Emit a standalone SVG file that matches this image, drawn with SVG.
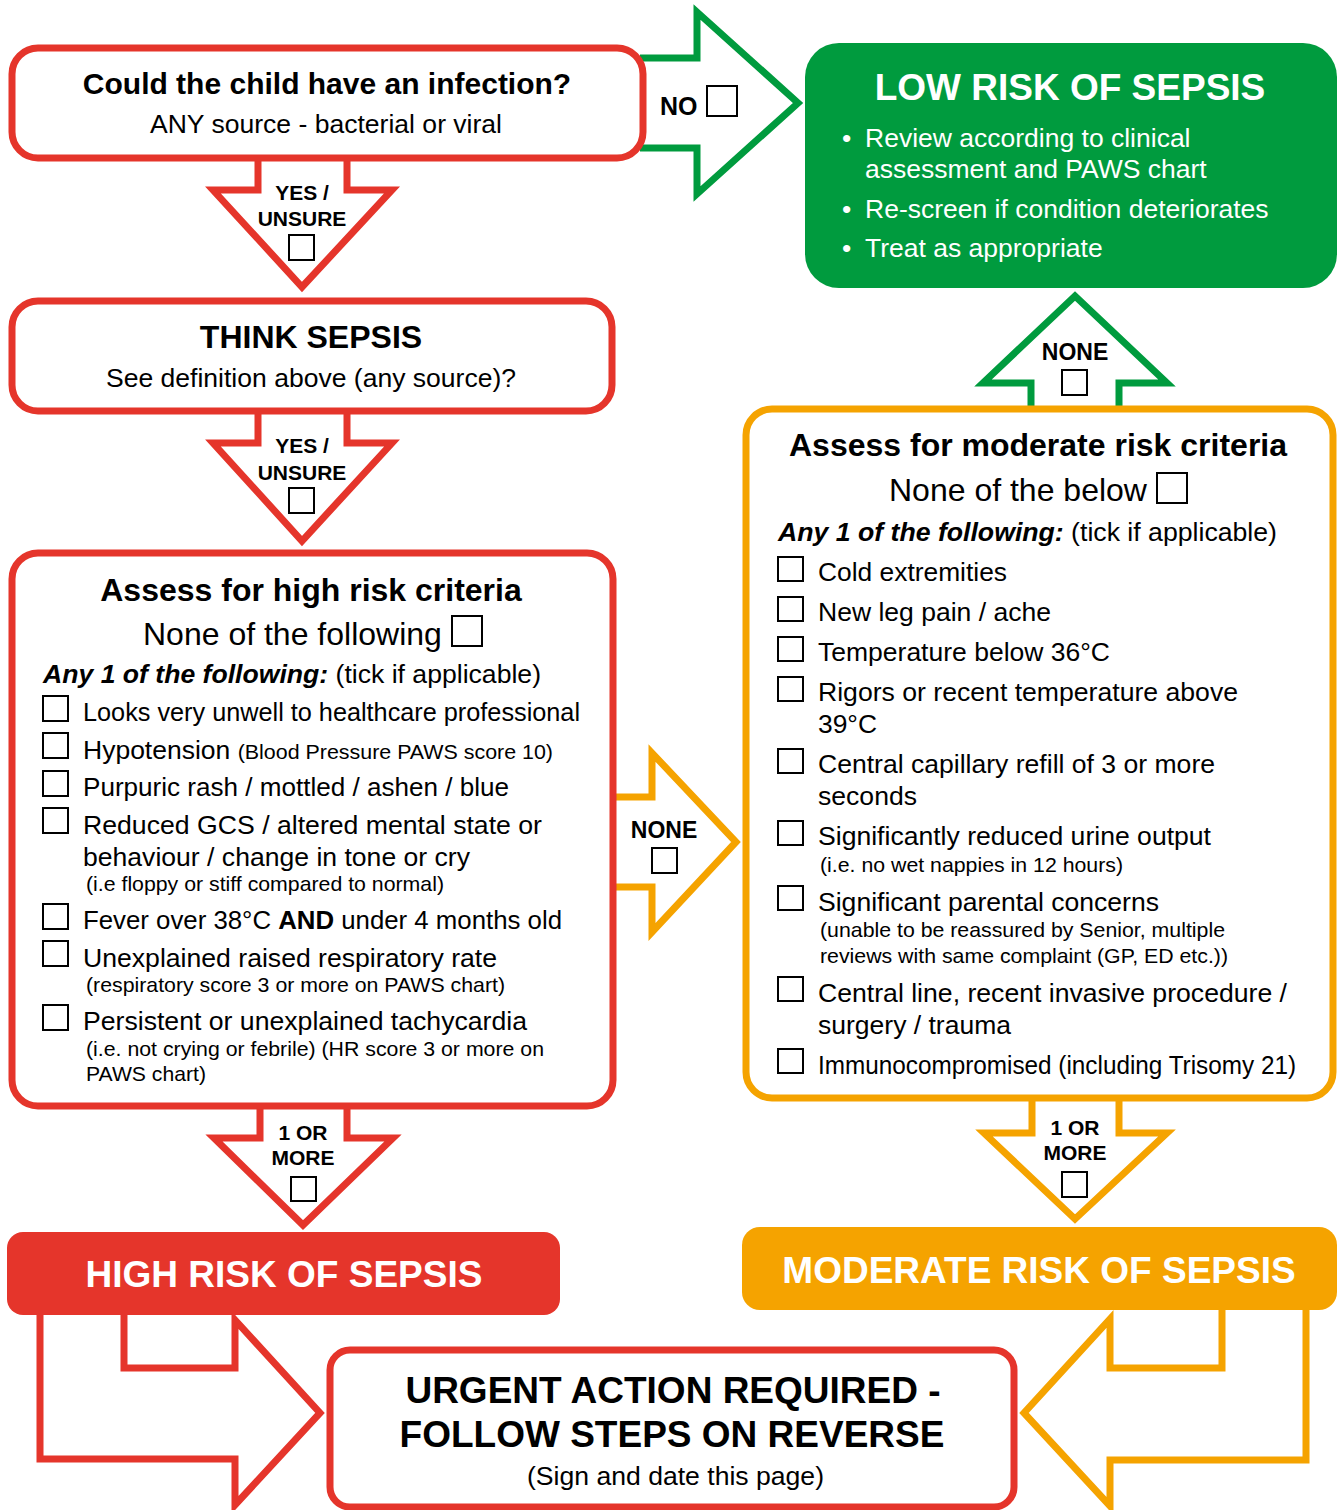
<svg xmlns="http://www.w3.org/2000/svg" width="1342" height="1510" viewBox="0 0 1342 1510">
<style>
text{font-family:"Liberation Sans",Arial,sans-serif;fill:#000}
.b{font-weight:bold}
.c{text-anchor:middle}
.w{fill:#fff}
.cb{fill:#fff;stroke:#000;stroke-width:2}
.red{fill:#fff;stroke:#e5352b;stroke-width:7}
.orn{fill:#fff;stroke:#f5a300;stroke-width:7}
.grn{fill:#fff;stroke:#009b3e;stroke-width:7}
.t26{font-size:26px}
.t21{font-size:21px}
.lw{font-size:26.5px;fill:#fff}
.lab{font-size:21px;font-weight:bold;text-anchor:middle}
</style>
<g id="connectors" stroke-linejoin="miter">
  <path id="arrow-no" class="grn" d="M640,58 L697,58 L697,12 L798,103 L697,194 L697,148 L640,148"/>
  <path id="arrow-yes1" class="red" d="M258,155 L258,190 L213,190 L302,287 L392,190 L347,190 L347,155"/>
  <path id="arrow-yes2" class="red" d="M258,408 L258,443 L213,443 L302,541 L392,443 L347,443 L347,408"/>
  <path id="arrow-none-right" class="orn" d="M612,797 L652,797 L652,753 L736,842 L652,932 L652,887 L612,887"/>
  <path id="arrow-none-up" class="grn" d="M1031,412 L1031,383 L983,383 L1075,296 L1167,383 L1119,383 L1119,412"/>
  <path id="arrow-high-more" class="red" d="M260,1102 L260,1138 L214,1138 L303,1225 L393,1138 L347,1138 L347,1102"/>
  <path id="arrow-mod-more" class="orn" d="M1032,1095 L1032,1133 L984,1133 L1075,1219 L1167,1133 L1119,1133 L1119,1095"/>
  <path id="arrow-high-urgent" class="red" d="M40,1310 L40,1459 L235,1459 L235,1505 L320,1413 L235,1320 L235,1368 L124,1368 L124,1310"/>
  <path id="arrow-mod-urgent" class="orn" d="M1306,1305 L1306,1460 L1110,1460 L1110,1506 L1024,1413 L1110,1319 L1110,1368 L1222,1368 L1222,1305"/>
  <text class="b" x="660" y="115" font-size="25">NO</text>
  <rect class="cb" x="707" y="86" width="30" height="30"/>
  <text class="lab" x="302" y="200">YES /</text>
  <text class="lab" x="302" y="226">UNSURE</text>
  <rect class="cb" x="289" y="235" width="25" height="25"/>
  <text class="lab" x="302" y="453">YES /</text>
  <text class="lab" x="302" y="480">UNSURE</text>
  <rect class="cb" x="289" y="488" width="25" height="25"/>
  <text class="b c" x="664" y="838" font-size="23">NONE</text>
  <rect class="cb" x="652" y="848" width="25" height="25"/>
  <text class="b c" x="1075" y="360" font-size="23">NONE</text>
  <rect class="cb" x="1062" y="370" width="25" height="25"/>
  <text class="lab" x="303" y="1140">1 OR</text>
  <text class="lab" x="303" y="1165">MORE</text>
  <rect class="cb" x="291" y="1177" width="25" height="24"/>
  <text class="lab" x="1075" y="1135">1 OR</text>
  <text class="lab" x="1075" y="1160">MORE</text>
  <rect class="cb" x="1062" y="1172" width="25" height="25"/>
</g>
<g id="node-infection">
  <rect class="red" x="12" y="48" width="631" height="110" rx="26"/>
  <text class="b c" x="327" y="94" font-size="30">Could the child have an infection?</text>
  <text class="t26" x="150" y="133" textLength="352" lengthAdjust="spacingAndGlyphs">ANY source - bacterial or viral</text>
</g>
<g id="node-low-risk">
  <rect x="805" y="43" width="532" height="245" rx="34" fill="#009b3e"/>
  <text class="b c w" x="1070" y="100" font-size="37">LOW RISK OF SEPSIS</text>
  <text class="lw" x="842" y="147">•</text>
  <text class="lw" x="865" y="147">Review according to clinical</text>
  <text class="lw" x="865" y="178">assessment and PAWS chart</text>
  <text class="lw" x="842" y="218">•</text>
  <text class="lw" x="865" y="218">Re-screen if condition deteriorates</text>
  <text class="lw" x="842" y="257">•</text>
  <text class="lw" x="865" y="257">Treat as appropriate</text>
</g>
<g id="node-think-sepsis">
  <rect class="red" x="12" y="301" width="600" height="110" rx="26"/>
  <text class="b c" x="311" y="348" font-size="32">THINK SEPSIS</text>
  <text class="t26" x="106" y="387" textLength="410" lengthAdjust="spacingAndGlyphs">See definition above (any source)?</text>
</g>
<g id="node-high-criteria">
  <rect class="red" x="12" y="553" width="601" height="553" rx="26"/>
  <text class="b c" x="311" y="601" font-size="32">Assess for high risk criteria</text>
  <text x="143" y="645" font-size="32">None of the following</text>
  <rect class="cb" x="452" y="616" width="30" height="30"/>
  <text class="t26" x="43" y="683" textLength="498" lengthAdjust="spacingAndGlyphs"><tspan font-weight="bold" font-style="italic">Any 1 of the following:</tspan> (tick if applicable)</text>
  <rect class="cb" x="43" y="696" width="25" height="25"/>
  <text class="t26" x="83" y="721" textLength="497" lengthAdjust="spacingAndGlyphs">Looks very unwell to healthcare professional</text>
  <rect class="cb" x="43" y="733" width="25" height="25"/>
  <text class="t26" x="83" y="759" textLength="470" lengthAdjust="spacingAndGlyphs">Hypotension <tspan font-size="21">(Blood Pressure PAWS score 10)</tspan></text>
  <rect class="cb" x="43" y="771" width="25" height="25"/>
  <text class="t26" x="83" y="796" textLength="426" lengthAdjust="spacingAndGlyphs">Purpuric rash / mottled / ashen / blue</text>
  <rect class="cb" x="43" y="808" width="25" height="25"/>
  <text class="t26" x="83" y="834" textLength="459" lengthAdjust="spacingAndGlyphs">Reduced GCS / altered mental state or</text>
  <text class="t26" x="83" y="866" textLength="387" lengthAdjust="spacingAndGlyphs">behaviour / change in tone or cry</text>
  <text class="t21" x="86" y="891" textLength="358" lengthAdjust="spacingAndGlyphs">(i.e floppy or stiff compared to normal)</text>
  <rect class="cb" x="43" y="904" width="25" height="25"/>
  <text class="t26" x="83" y="929" textLength="479" lengthAdjust="spacingAndGlyphs">Fever over 38°C <tspan font-weight="bold">AND</tspan> under 4 months old</text>
  <rect class="cb" x="43" y="941" width="25" height="25"/>
  <text class="t26" x="83" y="967" textLength="414" lengthAdjust="spacingAndGlyphs">Unexplained raised respiratory rate</text>
  <text class="t21" x="86" y="992" textLength="419" lengthAdjust="spacingAndGlyphs">(respiratory score 3 or more on PAWS chart)</text>
  <rect class="cb" x="43" y="1005" width="25" height="25"/>
  <text class="t26" x="83" y="1030" textLength="444" lengthAdjust="spacingAndGlyphs">Persistent or unexplained tachycardia</text>
  <text class="t21" x="86" y="1056" textLength="458" lengthAdjust="spacingAndGlyphs">(i.e. not crying or febrile) (HR score 3 or more on</text>
  <text class="t21" x="86" y="1081" textLength="120" lengthAdjust="spacingAndGlyphs">PAWS chart)</text>
</g>
<g id="node-moderate-criteria">
  <rect class="orn" x="746" y="409" width="587" height="689" rx="26"/>
  <text class="b c" x="1038" y="456" font-size="32">Assess for moderate risk criteria</text>
  <text x="889" y="501" font-size="32">None of the below</text>
  <rect class="cb" x="1157" y="473" width="30" height="30"/>
  <text class="t26" x="778" y="541" textLength="499" lengthAdjust="spacingAndGlyphs"><tspan font-weight="bold" font-style="italic">Any 1 of the following:</tspan> (tick if applicable)</text>
  <rect class="cb" x="778" y="557" width="25" height="24"/>
  <text class="t26" x="818" y="581" textLength="189" lengthAdjust="spacingAndGlyphs">Cold extremities</text>
  <rect class="cb" x="778" y="597" width="25" height="24"/>
  <text class="t26" x="818" y="621" textLength="233" lengthAdjust="spacingAndGlyphs">New leg pain / ache</text>
  <rect class="cb" x="778" y="637" width="25" height="24"/>
  <text class="t26" x="818" y="661" textLength="292" lengthAdjust="spacingAndGlyphs">Temperature below 36°C</text>
  <rect class="cb" x="778" y="677" width="25" height="24"/>
  <text class="t26" x="818" y="701" textLength="420" lengthAdjust="spacingAndGlyphs">Rigors or recent temperature above</text>
  <text class="t26" x="818" y="733" textLength="59" lengthAdjust="spacingAndGlyphs">39°C</text>
  <rect class="cb" x="778" y="749" width="25" height="24"/>
  <text class="t26" x="818" y="773" textLength="397" lengthAdjust="spacingAndGlyphs">Central capillary refill of 3 or more</text>
  <text class="t26" x="818" y="805" textLength="99" lengthAdjust="spacingAndGlyphs">seconds</text>
  <rect class="cb" x="778" y="821" width="25" height="24"/>
  <text class="t26" x="818" y="845" textLength="393" lengthAdjust="spacingAndGlyphs">Significantly reduced urine output</text>
  <text class="t21" x="820" y="872" textLength="303" lengthAdjust="spacingAndGlyphs">(i.e. no wet nappies in 12 hours)</text>
  <rect class="cb" x="778" y="886" width="25" height="24"/>
  <text class="t26" x="818" y="911" textLength="341" lengthAdjust="spacingAndGlyphs">Significant parental concerns</text>
  <text class="t21" x="820" y="937" textLength="405" lengthAdjust="spacingAndGlyphs">(unable to be reassured by Senior, multiple</text>
  <text class="t21" x="820" y="963" textLength="408" lengthAdjust="spacingAndGlyphs">reviews with same complaint (GP, ED etc.))</text>
  <rect class="cb" x="778" y="977" width="25" height="24"/>
  <text class="t26" x="818" y="1002" textLength="469" lengthAdjust="spacingAndGlyphs">Central line, recent invasive procedure /</text>
  <text class="t26" x="818" y="1034" textLength="193" lengthAdjust="spacingAndGlyphs">surgery / trauma</text>
  <rect class="cb" x="778" y="1049" width="25" height="24"/>
  <text class="t26" x="818" y="1074" textLength="478" lengthAdjust="spacingAndGlyphs">Immunocompromised (including Trisomy 21)</text>
</g>
<g id="node-high-risk">
  <rect x="7" y="1232" width="553" height="83" rx="16" fill="#e5352b"/>
  <text class="b c w" x="284" y="1287" font-size="37">HIGH RISK OF SEPSIS</text>
</g>
<g id="node-moderate-risk">
  <rect x="742" y="1227" width="595" height="83" rx="18" fill="#f5a300"/>
  <text class="b c w" x="1039" y="1283" font-size="37">MODERATE RISK OF SEPSIS</text>
</g>
<g id="node-urgent">
  <rect class="red" x="330" y="1350" width="684" height="157" rx="20"/>
  <text class="b c" x="673" y="1403" font-size="37">URGENT ACTION REQUIRED -</text>
  <text class="b c" x="672" y="1447" font-size="37">FOLLOW STEPS ON REVERSE</text>
  <text x="527" y="1485" font-size="26" textLength="297" lengthAdjust="spacingAndGlyphs">(Sign and date this page)</text>
</g>
</svg>
